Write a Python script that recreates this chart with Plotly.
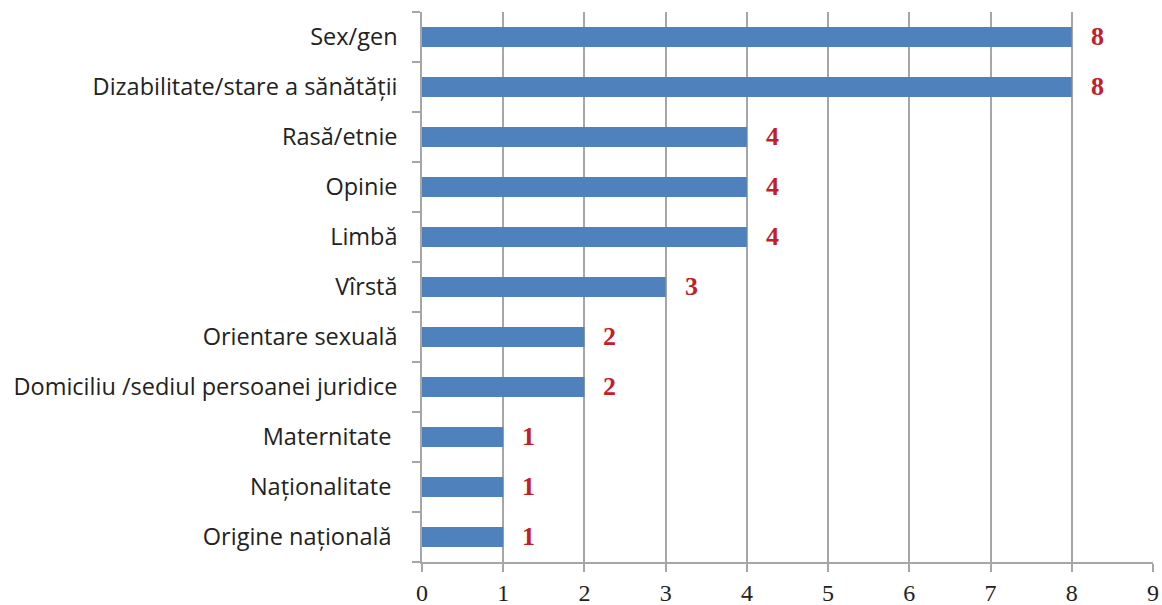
import plotly.graph_objects as go

categories = [
    "Sex/gen",
    "Dizabilitate/stare a sănătății",
    "Rasă/etnie",
    "Opinie",
    "Limbă",
    "Vîrstă",
    "Orientare sexuală",
    "Domiciliu /sediul persoanei juridice",
    "Maternitate\u00a0",
    "Naționalitate\u00a0",
    "Origine națională\u00a0",
]
values = [8, 8, 4, 4, 4, 3, 2, 2, 1, 1, 1]
x_ticks = list(range(0, 10))

bar_color = "#4F81BD"
label_color = "#C0202A"
grid_color = "#A6A6A6"

fig = go.Figure()
fig.add_trace(go.Bar(
    y=categories,
    x=values,
    orientation="h",
    marker=dict(color=bar_color, line=dict(width=0)),
    width=0.4,
    hoverinfo="skip",
))

for c, v in zip(categories, values):
    fig.add_annotation(
        x=v, y=c, text=f"<b>{v}</b>", showarrow=False,
        xanchor="left", yanchor="middle", xshift=17, yshift=1,
        font=dict(family="Liberation Serif", size=26, color=label_color),
    )

fig.update_layout(
    width=1162, height=605,
    margin=dict(l=422, r=9, t=12, b=43, autoexpand=False),
    plot_bgcolor="white", paper_bgcolor="white",
    showlegend=False,
)
fig.update_xaxes(
    range=[0, 9], tickvals=x_ticks, ticktext=[str(t) for t in x_ticks],
    showgrid=True, gridcolor=grid_color, gridwidth=1.5,
    showline=True, linecolor=grid_color, linewidth=1.5,
    ticks="outside", ticklen=8, tickcolor=grid_color, tickwidth=1.5,
    tickfont=dict(family="Liberation Serif", size=24, color="#222222"),
    ticklabelstandoff=0,
    zeroline=False, fixedrange=True, automargin=False,
)
fig.update_yaxes(
    categoryorder="array", categoryarray=categories[::-1],
    showline=True, linecolor=grid_color, linewidth=1.5,
    ticks="outside", ticklen=8, tickcolor=grid_color, tickwidth=1.5,
    tickson="boundaries",
    tickfont=dict(family="Open Sans", size=23.5, color="#222222"),
    ticklabelstandoff=18,
    showgrid=False, fixedrange=True, automargin=False,
)

fig.write_html(
    "out.html",
    config={"displayModeBar": False},
    post_script="document.body.style.margin='0';document.body.style.overflow='hidden';",
)
